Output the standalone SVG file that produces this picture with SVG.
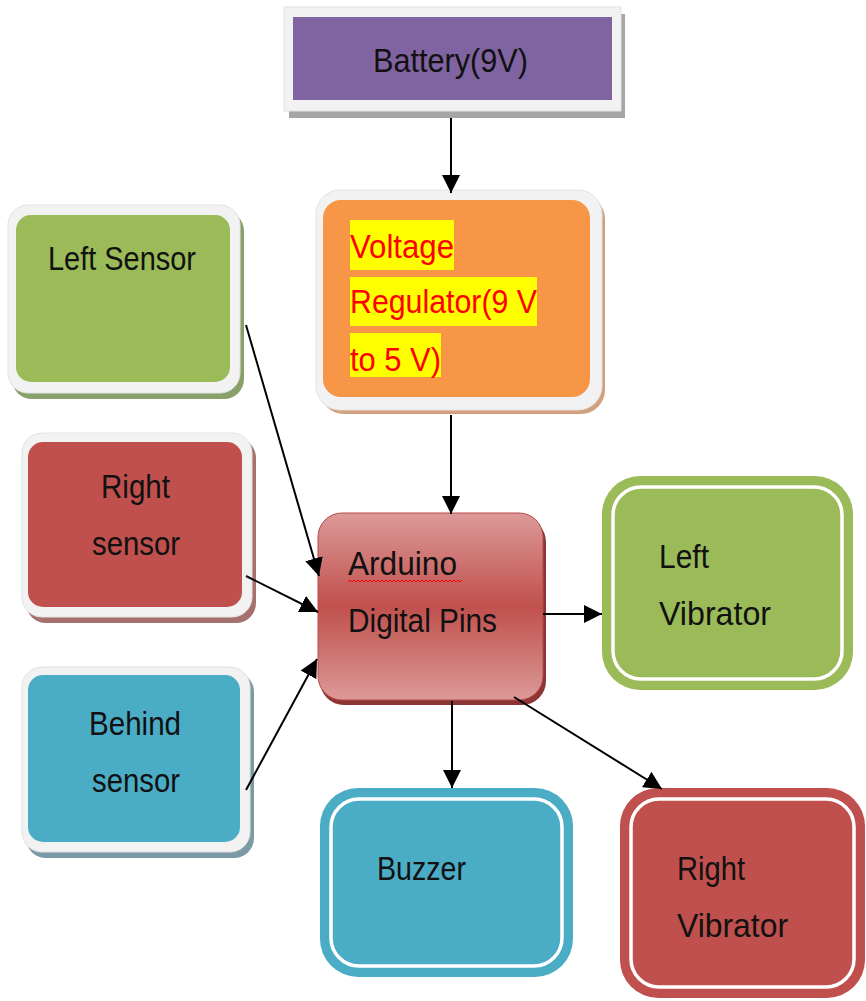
<svg xmlns="http://www.w3.org/2000/svg" width="866" height="1001" viewBox="0 0 866 1001">
<defs>
<style>
text{font-family:"Liberation Sans","DejaVu Sans",sans-serif;font-size:34px;fill:#111}
.frame{fill:#f2f2f2;stroke:#e2e2e2;stroke-width:1}
.conn{stroke:#000;stroke-width:2;fill:none;marker-end:url(#ah)}
.wline{fill:none;stroke:#fff;stroke-width:3.5}
.red{fill:#ff0000}
.hl{fill:#ffff00}
</style>
<marker id="ah" markerUnits="userSpaceOnUse" markerWidth="20" markerHeight="18" refX="18" refY="9" orient="auto">
<path d="M0,0 L18,9 L0,18 Z" fill="#000"/>
</marker>
<linearGradient id="ardg" x1="0" y1="0" x2="0" y2="1">
<stop offset="0" stop-color="#dc9a98"/>
<stop offset="0.5" stop-color="#c0504d"/>
<stop offset="1" stop-color="#dc9a98"/>
</linearGradient>
</defs>

<g id="battery">
<rect x="289" y="14" width="336" height="104" fill="#a6a6a6"/>
<rect x="284" y="7" width="337" height="104" class="frame"/>
<rect x="293" y="17" width="319" height="83" fill="#8064a2"/>
<text x="373" y="72" textLength="155" lengthAdjust="spacingAndGlyphs" font-size="38">Battery(9V)</text>
</g>

<g id="regulator">
<rect x="320" y="195" width="285" height="219" rx="24" fill="#d3a07c"/>
<rect x="316" y="190" width="286" height="220" rx="24" class="frame"/>
<rect x="323" y="200" width="267" height="197" rx="18" fill="#f79646"/>
<rect x="350" y="220" width="104" height="50" class="hl"/>
<rect x="350" y="277" width="187" height="49" class="hl"/>
<rect x="350" y="333" width="91" height="44" class="hl"/>
<text x="350" y="258" class="red" textLength="104" lengthAdjust="spacingAndGlyphs" font-size="36">Voltage</text>
<text x="350" y="313" class="red" textLength="187" lengthAdjust="spacingAndGlyphs" font-size="36">Regulator(9 V</text>
<text x="350" y="371" class="red" textLength="91" lengthAdjust="spacingAndGlyphs" font-size="36">to 5 V)</text>
</g>

<g id="left-sensor">
<rect x="12" y="211" width="232" height="188" rx="20" fill="#8aa06a"/>
<rect x="8" y="205" width="232" height="188" rx="20" class="frame"/>
<rect x="16" y="215" width="214" height="167" rx="15" fill="#9bbb59"/>
<text x="48" y="270" textLength="148" lengthAdjust="spacingAndGlyphs" font-size="33">Left Sensor</text>
</g>

<g id="right-sensor">
<rect x="26" y="438" width="230" height="185" rx="20" fill="#a5706e"/>
<rect x="22" y="433" width="230" height="184" rx="20" class="frame"/>
<rect x="28" y="442" width="214" height="165" rx="15" fill="#c0504d"/>
<text x="101" y="498" textLength="69" lengthAdjust="spacingAndGlyphs" font-size="34">Right</text>
<text x="92" y="555" textLength="88" lengthAdjust="spacingAndGlyphs" font-size="34">sensor</text>
</g>

<g id="behind-sensor">
<rect x="26" y="672" width="228" height="186" rx="20" fill="#7b9aa6"/>
<rect x="22" y="667" width="228" height="185" rx="20" class="frame"/>
<rect x="28" y="675" width="212" height="167" rx="15" fill="#4bacc6"/>
<text x="89" y="735" textLength="92" lengthAdjust="spacingAndGlyphs" font-size="34">Behind</text>
<text x="92" y="792" textLength="88" lengthAdjust="spacingAndGlyphs" font-size="34">sensor</text>
</g>

<g id="arduino">
<rect x="320" y="518" width="226" height="187" rx="24" fill="#8b3634"/>
<rect x="318" y="513" width="225" height="187" rx="24" fill="url(#ardg)" stroke="#b54a48" stroke-width="1"/>
<text x="348" y="575" textLength="109" lengthAdjust="spacingAndGlyphs" font-size="34">Arduino</text>
<path d="M348,582 l2,-2 l2,2 l2,-2 l2,2 l2,-2 l2,2 l2,-2 l2,2 l2,-2 l2,2 l2,-2 l2,2 l2,-2 l2,2 l2,-2 l2,2 l2,-2 l2,2 l2,-2 l2,2 l2,-2 l2,2 l2,-2 l2,2 l2,-2 l2,2 l2,-2 l2,2 l2,-2 l2,2 l2,-2 l2,2 l2,-2 l2,2 l2,-2 l2,2 l2,-2 l2,2 l2,-2 l2,2 l2,-2 l2,2 l2,-2 l2,2 l2,-2 l2,2 l2,-2 l2,2 l2,-2 l2,2 l2,-2 l2,2 l2,-2 l2,2 l2,-2 l2,2 l2,-2" fill="none" stroke="#ff0000" stroke-width="1"/>
<text x="348" y="632" textLength="149" lengthAdjust="spacingAndGlyphs" font-size="34">Digital Pins</text>
</g>

<g id="left-vibrator">
<rect x="602" y="476" width="251" height="214" rx="38" fill="#9bbb59"/>
<rect x="613" y="487" width="229" height="192" rx="28" class="wline"/>
<text x="659" y="568" textLength="50" lengthAdjust="spacingAndGlyphs" font-size="34">Left</text>
<text x="659" y="625" textLength="112" lengthAdjust="spacingAndGlyphs" font-size="34">Vibrator</text>
</g>

<g id="buzzer">
<rect x="320" y="788" width="253" height="189" rx="38" fill="#4bacc6"/>
<rect x="331" y="799" width="231" height="167" rx="28" class="wline"/>
<text x="377" y="880" textLength="89" lengthAdjust="spacingAndGlyphs" font-size="34">Buzzer</text>
</g>

<g id="right-vibrator">
<rect x="620" y="788" width="245" height="210" rx="38" fill="#c0504d"/>
<rect x="631" y="799" width="223" height="188" rx="28" class="wline"/>
<text x="677" y="880" textLength="68" lengthAdjust="spacingAndGlyphs" font-size="34">Right</text>
<text x="677" y="937" textLength="111" lengthAdjust="spacingAndGlyphs" font-size="34">Vibrator</text>
</g>

<g id="connectors">
<line x1="451" y1="118" x2="451" y2="193" class="conn"/>
<line x1="451" y1="415" x2="451" y2="514" class="conn"/>
<line x1="246" y1="325" x2="319" y2="576" class="conn"/>
<line x1="246" y1="576" x2="318" y2="612" class="conn"/>
<line x1="246" y1="790" x2="317" y2="659" class="conn"/>
<line x1="543" y1="614" x2="602" y2="614" class="conn"/>
<line x1="452" y1="701" x2="452" y2="788" class="conn"/>
<line x1="514" y1="697" x2="662" y2="789" class="conn"/>
</g>
</svg>
